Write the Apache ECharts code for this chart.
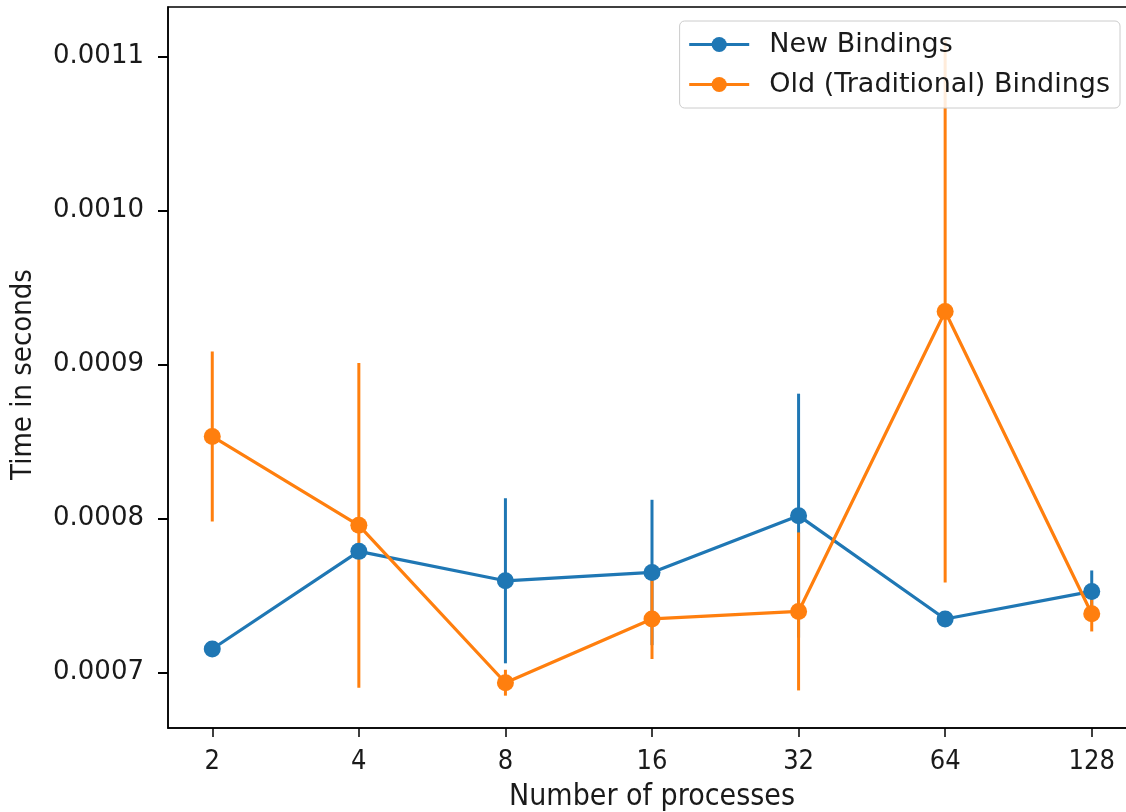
<!DOCTYPE html>
<html>
<head>
<meta charset="utf-8">
<script src="https://cdn.jsdelivr.net/npm/echarts@6/dist/echarts.min.js"></script>
<style>
html,body{margin:0;padding:0;background:#fff;}
#chart{width:1126px;height:812px;}
</style>
</head>
<body>
<div id="chart"></div>
<script>
// ---- data ----
const categories = ['2', '4', '8', '16', '32', '64', '128'];
const newMean = [0.0007152, 0.0007786, 0.0007595, 0.0007649, 0.0008018, 0.0007347, 0.0007526];
const newErr  = [0.0000030, 0.0000040, 0.0000536, 0.0000472, 0.0000792, 0.0000020, 0.0000136];
const oldMean = [0.0008532, 0.0007955, 0.0006933, 0.0007347, 0.0007396, 0.0009344, 0.0007381];
const oldErr  = [0.0000552, 0.0001055, 0.0000084, 0.0000260, 0.0000513, 0.0001760, 0.0000115];
const yTicks  = [0.0007, 0.0008, 0.0009, 0.0010, 0.0011];
const seriesNames = ['New Bindings', 'Old (Traditional) Bindings'];

const BLUE = '#1f77b4', ORANGE = '#ff7f0e';
// x positions on a log2 scale (2 -> 1, 4 -> 2, ... 128 -> 7)
const xPos = categories.map((c) => Math.log2(Number(c)));
const X_MIN = 0.698, X_MAX = 7.302;
const Y_MIN = 0.0006639, Y_MAX = 0.0011321;

function errSeries(name, mean, err, color, z) {
  return {
    name: name + ' err',
    type: 'custom',
    z: z,
    clip: true,
    silent: true,
    encode: { x: 0, y: 1 },
    data: xPos.map((x, i) => [x, mean[i], err[i]]),
    renderItem: function (params, api) {
      const x = api.value(0), m = api.value(1), e = api.value(2);
      const p1 = api.coord([x, m + e]);
      const p2 = api.coord([x, m - e]);
      return {
        type: 'line',
        shape: { x1: p1[0], y1: p1[1], x2: p2[0], y2: p2[1] },
        style: { stroke: color, lineWidth: 3 }
      };
    }
  };
}

function lineSeries(name, mean, color, z) {
  return {
    name: name,
    type: 'line',
    z: z,
    data: xPos.map((x, i) => [x, mean[i]]),
    symbol: 'circle',
    symbolSize: 17,
    showSymbol: true,
    color: color,
    lineStyle: { color: color, width: 3.2 },
    itemStyle: { color: color },
    emphasis: { disabled: true },
    animation: false
  };
}

const chart = echarts.init(document.getElementById('chart'), null, { renderer: 'canvas' });
chart.setOption({
  animation: false,
  backgroundColor: '#fff',
  grid: {
    left: 168, top: 7, width: 968, height: 721,
    containLabel: false,
    outerBoundsMode: 'none',
    show: true, borderColor: '#000', borderWidth: 1.5, backgroundColor: 'transparent'
  },
  legend: {
    data: seriesNames,
    orient: 'vertical',
    right: 6, top: 21,
    backgroundColor: 'rgba(255,255,255,0.85)',
    borderColor: '#cccccc', borderWidth: 1, borderRadius: 5,
    padding: [10, 10, 10, 8],
    itemGap: 13,
    itemWidth: 60, itemHeight: 19,
    lineStyle: { width: 3.2 },
    textStyle: { fontFamily: 'DejaVu Sans', fontSize: 27, color: '#1a1a1a', padding: [0, 0, 0, 15] },
    z: 10
  },
  xAxis: {
    type: 'value',
    min: X_MIN, max: X_MAX,
    name: 'Number of processes',
    nameLocation: 'middle',
    nameGap: 54,
    nameTextStyle: { fontFamily: 'DejaVu Sans Condensed', fontSize: 30, color: '#1a1a1a' },
    axisLine: { show: true, lineStyle: { color: '#000', width: 1.5 } },
    axisTick: { show: true, customValues: xPos, length: 9, lineStyle: { color: '#000', width: 1.5 } },
    axisLabel: {
      customValues: xPos,
      margin: 20,
      fontFamily: 'DejaVu Sans Condensed', fontSize: 27, color: '#1a1a1a',
      formatter: (v) => categories[xPos.findIndex((p) => Math.abs(p - v) < 1e-6)]
    },
    splitLine: { show: false }
  },
  yAxis: {
    type: 'value',
    position: 'left',
    min: Y_MIN, max: Y_MAX,
    name: 'Time in seconds',
    nameLocation: 'middle',
    nameGap: 130,
    nameRotate: 90,
    nameTextStyle: { fontFamily: 'DejaVu Sans Condensed', fontSize: 29, color: '#1a1a1a', padding: [0, 14, 0, 0] },
    axisLine: { show: true, lineStyle: { color: '#000', width: 1.5 } },
    axisTick: { show: true, inside: false, customValues: yTicks, length: 10, lineStyle: { color: '#000', width: 2 } },
    axisLabel: {
      customValues: yTicks,
      margin: 24,
      fontFamily: 'DejaVu Sans', fontSize: 26, color: '#1a1a1a',
      formatter: (v) => v.toFixed(4)
    },
    splitLine: { show: false }
  },
  series: [
    errSeries(seriesNames[0], newMean, newErr, BLUE, 1),
    errSeries(seriesNames[1], oldMean, oldErr, ORANGE, 2),
    lineSeries(seriesNames[0], newMean, BLUE, 3),
    lineSeries(seriesNames[1], oldMean, ORANGE, 4)
  ]
});
</script>
</body>
</html>
